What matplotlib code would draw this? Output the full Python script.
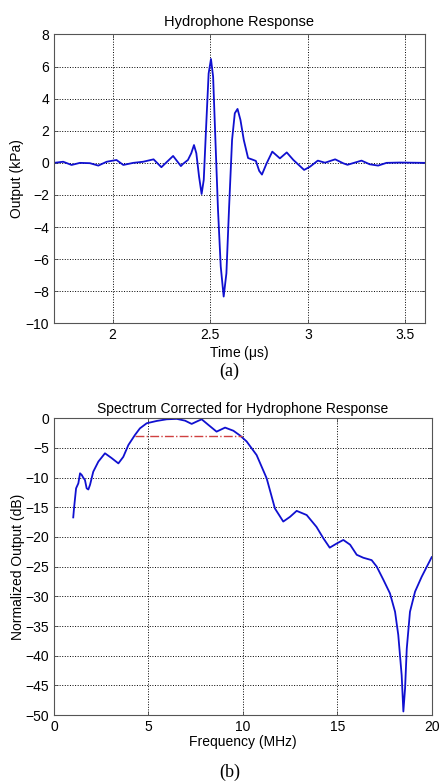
import numpy as np
import matplotlib.pyplot as plt
from matplotlib.ticker import FormatStrFormatter

plt.rcParams['font.family'] = ['Liberation Sans', 'DejaVu Sans']
plt.rcParams['mathtext.fontset'] = 'custom'
plt.rcParams['mathtext.rm'] = 'Liberation Sans'
plt.rcParams['mathtext.it'] = 'Liberation Sans'

##### DATA #####

# hydrophone waveform, time (us) / output (kPa)
t_us = [1.70, 1.747, 1.79, 1.833, 1.884, 1.927, 1.97, 2.02, 2.055, 2.106,
        2.157, 2.21, 2.25, 2.31, 2.35, 2.36, 2.386, 2.403, 2.417, 2.429,
        2.443, 2.456, 2.467, 2.48, 2.492, 2.504, 2.515, 2.528, 2.54, 2.554,
        2.569, 2.583, 2.597, 2.612, 2.626, 2.64, 2.655, 2.672, 2.694, 2.717,
        2.734, 2.751, 2.765, 2.789, 2.818, 2.857, 2.892, 2.926, 2.981, 3.011,
        3.051, 3.088, 3.14, 3.182, 3.203, 3.275, 3.317, 3.36, 3.403, 3.47,
        3.60]
p_kpa = [0.0, 0.07, -0.13, 0.0, -0.02, -0.17, 0.07, 0.18, -0.13, 0.0,
         0.07, 0.22, -0.27, 0.43, -0.2, -0.07, 0.18, 0.6, 1.11, 0.6,
         -0.86, -1.94, -1.06, 2.46, 5.57, 6.47, 5.36, 1.0, -2.93, -6.46,
         -8.33, -6.88, -2.7, 1.43, 3.09, 3.36, 2.67, 1.43, 0.3, 0.2,
         0.12, -0.5, -0.73, -0.03, 0.7, 0.28, 0.65, 0.18, -0.44, -0.24,
         0.14, 0.01, 0.22, -0.03, -0.12, 0.14, -0.09, -0.17, 0.0, 0.02,
         0.0]

# corrected spectrum, frequency (MHz) / normalized output (dB)
f_mhz = [1.02, 1.06, 1.17, 1.29, 1.38, 1.47, 1.55, 1.64, 1.73, 1.82,
         1.91, 2.08, 2.35, 2.7, 3.05, 3.41, 3.67, 3.94, 4.29, 4.55,
         4.91, 5.44, 5.97, 6.5, 6.94, 7.29, 7.55, 7.82, 8.17, 8.61,
         9.06, 9.5, 9.85, 10.2, 10.73, 11.26, 11.7, 12.14, 12.5, 12.85,
         13.38, 13.9, 14.26, 14.6, 14.97, 15.32, 15.68, 16.03, 16.38, 16.82,
         17.09, 17.44, 17.79, 18.06, 18.23, 18.41, 18.5, 18.59, 18.68, 18.85,
         19.12, 19.47, 20.0]
db = [-16.7, -15.2, -11.8, -10.96, -9.27, -9.55, -10.0, -10.4, -11.8, -12.0,
      -11.2, -9.0, -7.3, -5.9, -6.7, -7.6, -6.5, -4.5, -2.8, -1.7,
      -0.84, -0.45, -0.17, -0.1, -0.4, -0.95, -0.56, -0.17, -1.1, -2.25,
      -1.57, -2.1, -2.9, -3.9, -6.2, -10.1, -15.2, -17.4, -16.6, -15.6,
      -16.3, -18.3, -20.2, -21.8, -21.1, -20.5, -21.3, -23.0, -23.5, -23.9,
      -25.0, -27.2, -29.5, -32.6, -36.5, -43.3, -49.4, -45.5, -38.8, -32.6,
      -29.2, -26.7, -23.4]

# -3 dB bandwidth marker
bw_f = [4.29, 9.94]
bw_db = [-3, -3]

##### FIGURE #####

fig = plt.figure(figsize=(4.41, 7.83), dpi=100)

def matlab_axes(ax):
    ax.grid(True, linestyle=':', color='black', linewidth=0.7)
    ax.tick_params(direction='in', top=True, right=True, labelsize=10,
                   length=3, width=0.6, color='#444444')
    ax.xaxis.set_major_formatter(FormatStrFormatter('%g'))
    for s in ax.spines.values():
        s.set_color('#555555')
        s.set_linewidth(0.8)

ax1 = fig.add_axes([0.1224, 0.587, 0.8413, 0.369])
ax1.plot(t_us, p_kpa, color='#1010d0', linewidth=1.3)
ax1.set_xlim(1.7, 3.6)
ax1.set_ylim(-10, 8)
ax1.set_xticks([2, 2.5, 3, 3.5])
ax1.set_yticks(np.arange(-10, 9, 2))
ax1.set_title('Hydrophone Response', fontsize=10.5, pad=6)
ax1.set_xlabel(r'Time ($\mu$s)', fontsize=10, labelpad=1)
ax1.set_ylabel('Output (kPa)', fontsize=10, labelpad=1)
matlab_axes(ax1)

ax2 = fig.add_axes([0.1224, 0.0868, 0.8565, 0.379])
ax2.plot(f_mhz, db, color='#1010d0', linewidth=1.3)
ax2.plot(bw_f, bw_db, color='#d04040', linestyle='-.', linewidth=1.0)
ax2.set_xlim(0, 20)
ax2.set_ylim(-50, 0)
ax2.set_xticks([0, 5, 10, 15, 20])
ax2.set_yticks(np.arange(-50, 1, 5))
ax2.set_title('Spectrum Corrected for Hydrophone Response', fontsize=10, pad=4)
ax2.set_xlabel('Frequency (MHz)', fontsize=10, labelpad=1)
ax2.set_ylabel('Normalized Output (dB)', fontsize=10, labelpad=0)
matlab_axes(ax2)

fig.text(0.52, 1 - 371/783, '(a)', ha='center', va='center',
         fontsize=13, family='Liberation Serif')
fig.text(0.52, 1 - 772/783, '(b)', ha='center', va='center',
         fontsize=13, family='Liberation Serif')

fig.savefig('out.png', dpi=100)
